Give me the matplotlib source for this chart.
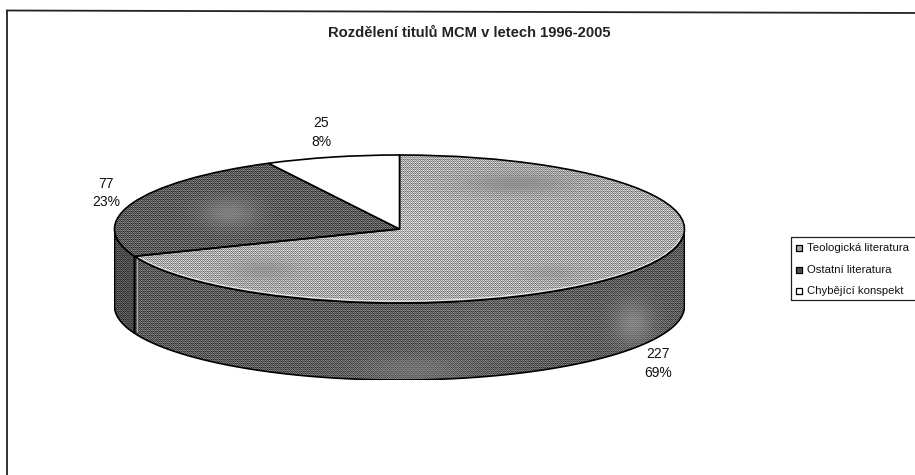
import numpy as np
import matplotlib
matplotlib.use("Agg")
import matplotlib.pyplot as plt
from matplotlib.patches import Polygon

plt.rcParams['font.family'] = ['Liberation Sans', 'DejaVu Sans']

title = "Rozdělení titulů MCM v letech 1996-2005"
categories = ["Teologická literatura", "Ostatní literatura", "Chybějící konspekt"]
counts = [227, 77, 25]
percents = ["69%", "23%", "8%"]
label_pos = [(658, 363.5), (106, 193), (321, 132.5)]  # middle of each label, pixels
top_gray = [0.66, 0.36, 1.0]

W, H = 915, 475
# ellipse of the top face in pixels
cx, cy, rx, ry, depth = 399.5, 229, 285, 74, 77

BAYER = np.array([[0, 8, 2, 10], [12, 4, 14, 6], [3, 11, 1, 9], [15, 7, 13, 5]]) / 15.0 - 0.5


def texture(base, amp):
    # ordered dither like the scanned print
    ny, nx = base.shape
    yy, xx = np.mgrid[0:ny, 0:nx]
    return np.clip(base + 2 * amp * BAYER[yy % 4, xx % 4], 0, 1)


fig = plt.figure(figsize=(W / 100, H / 100), dpi=100)

# pie axes: x spans the ellipse, y runs from top of ellipse to bottom of the wall
left, right, top, bottom = cx - rx, cx + rx, cy - ry, cy + ry + depth
ax = fig.add_axes([left / W, 1 - bottom / H, (right - left) / W, (bottom - top) / H])
wedges, _ = ax.pie(counts, startangle=90, counterclock=False, radius=1,
                   colors=[str(g) for g in top_gray],
                   wedgeprops=dict(edgecolor='black', linewidth=1.2))
ax.set_aspect('auto')
d = depth / ry
ax.set_xlim(-1, 1)
ax.set_ylim(-1 - d, 1)

nx, ny = int(right - left), int(bottom - top)
ext = (-1, 1, -1 - d, 1)
xg = np.linspace(-1, 1, nx)[None, :]
yg = np.linspace(1, -1 - d, ny)[:, None]


def spot(x0, y0, sx, sy):
    return np.exp(-((xg - x0) / sx) ** 2) * np.exp(-((yg - y0) / sy) ** 2)


def paint(clip, base, amp, zorder):
    im = ax.imshow(texture(base, amp), extent=ext, cmap='gray', vmin=0, vmax=1,
                   aspect='auto', interpolation='nearest', zorder=zorder)
    im.set_clip_path(clip)


# walls, from the slice angles
ends = np.cumsum(counts) / np.sum(counts) * 2 * np.pi
walls = [(np.pi / 2, ends[0]), (ends[0], 3 * np.pi / 2)]
for i, (a, b) in enumerate(walls):
    t = np.linspace(a, b, 200)
    xs, ys = np.sin(t), np.cos(t)
    pts = np.vstack([np.c_[xs, ys], np.c_[xs[::-1], ys[::-1] - d]])
    poly = Polygon(pts, closed=True, fc='none', ec='black', lw=1.2, zorder=3)
    ax.add_patch(poly)
    if i == 0:
        glow = spot(0.82, -1.27, 0.07, 0.3) + 0.6 * spot(0.05, -1.9, 0.2, 0.2)
        base = 0.36 + 0.15 * glow + 0.05 * spot(0.35, -1.3, 0.3, 0.4)
        paint(poly, base, 0.2 * (1 - 0.7 * np.clip(glow, 0, 1)), 2)
    else:
        paint(poly, 0.30 * np.ones((ny, nx)), 0.16, 2)

# light strip beside the wall seam
sx, sy = np.sin(ends[0]) + 0.007, np.cos(ends[0])
ax.plot([sx, sx], [sy - 0.03, sy - d + 0.03], color='#a8a8a8', lw=0.8, zorder=3.5)

# top face textures
patch0 = spot(0.41, 0.62, 0.2, 0.15) + 0.8 * spot(-0.48, -0.55, 0.12, 0.15) + 0.6 * spot(0.53, -0.6, 0.1, 0.1)
patch1 = spot(-0.6, 0.22, 0.1, 0.2)
shades = [top_gray[0] - 0.10 * patch0 + 0.05 * spot(-0.1, 0.0, 0.4, 0.4),
          top_gray[1] + 0.14 * patch1]
amps = [0.26 * (1 - 0.8 * np.clip(patch0, 0, 1)), 0.22 * (1 - 0.8 * np.clip(patch1, 0, 1))]
for w, base, amp in zip(wedges[:2], shades, amps):
    w.set_zorder(5)
    paint(w, base, amp, 4)
    w.set_facecolor('none')
for w in wedges[2:]:
    w.set_zorder(5)

# light rim along the front of the top face
t = np.linspace(np.pi / 2 + 0.15, ends[0] - 0.03, 200)
ax.plot(0.994 * np.sin(t), 0.975 * np.cos(t), color='#e8e8e8', lw=0.9, zorder=4.5)

ax.set_xlim(-1, 1)
ax.set_ylim(-1 - d, 1)
ax.axis('off')

# overlay in pixel coordinates for texts, frame and legend
ov = fig.add_axes([0, 0, 1, 1], facecolor='none')
ov.set_xlim(0, W)
ov.set_ylim(H, 0)
ov.axis('off')

ov.plot([7, 915], [10.5, 13], color='#222222', lw=1.3)
ov.plot([7, 7], [10.5, 475], color='#222222', lw=1.3)

ov.text(469.5, 33, title, ha='center', va='center', fontsize=10.6, fontweight='bold', color='#222222')

for (x, y), n, p in zip(label_pos, counts, percents):
    ov.text(x, y - 9.5, str(n), ha='center', va='center', fontsize=10, color='#111111')
    ov.text(x, y + 9.5, p, ha='center', va='center', fontsize=10, color='#111111')

# legend box runs off the right edge
ov.plot([915, 790.5, 790.5, 915], [237, 237, 300, 300], color='#222222', lw=0.9)
leg_y = [248, 270, 291]
leg_colors = ['#a8a8a8', '#4d4d4d', 'white']
for y, name, c in zip(leg_y, categories, leg_colors):
    ov.scatter([799], [y], marker='s', s=24, c=c, edgecolors='black', linewidths=0.9)
    ov.text(807, y, name, ha='left', va='center', fontsize=8.2, color='#111111')

fig.savefig("out.png", dpi=100)
